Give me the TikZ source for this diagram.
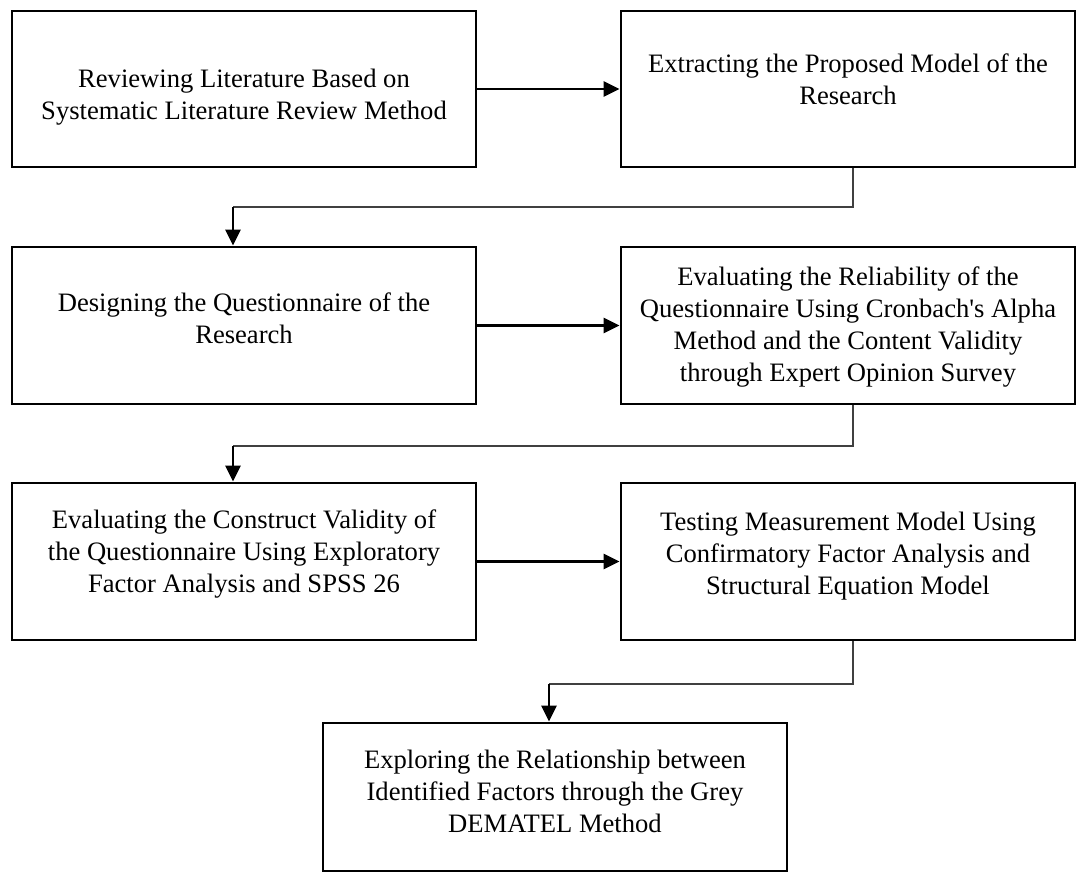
\documentclass[tikz,border=0pt]{standalone}
\usepackage{fontspec}
\setmainfont{Liberation Serif}
\usetikzlibrary{arrows.meta}
\tikzset{
  box/.style={draw, line width=2.9pt, rectangle, inner sep=0pt, minimum height=156pt},
  txt/.style={inner sep=0pt, align=center, font=\fontsize{26.6}{32}\selectfont},
  arr/.style={line width=2.8pt, -{Triangle[length=16pt,width=15pt]}},
  thinline/.style={line width=1.4pt, draw=black!75}
}
\begin{document}
\begin{tikzpicture}[x=1pt,y=-1pt]
\useasboundingbox (0,0) rectangle (1077,874);
\node[box, minimum width=464pt] (b1) at (244,89) {};
\node[box, minimum width=454pt] (b2) at (848,89) {};
\node[box, minimum width=464pt, minimum height=157pt] (b3) at (244,325.5) {};
\node[box, minimum width=454pt, minimum height=157pt] (b4) at (848,325.5) {};
\node[box, minimum width=464pt, minimum height=157pt] (b5) at (244,561.5) {};
\node[box, minimum width=454pt, minimum height=157pt] (b6) at (848,561.5) {};
\node[box, minimum width=464pt, minimum height=148pt] (b7) at (555,797) {};

\node[txt] (t1) at ([yshift=-8pt]b1.center) {Reviewing Literature Based on\\Systematic Literature Review Method};
\node[txt] (t2) at ([yshift=10pt]b2.center) {Extracting the Proposed Model of the\\Research};
\node[txt] (t3) at ([yshift=7pt]b3.center) {Designing the Questionnaire of the\\Research};
\node[txt] (t4) at ([yshift=-2pt]b4.center) {Evaluating the Reliability of the\\Questionnaire Using Cronbach\textquotesingle s Alpha\\Method and the Content Validity\\through Expert Opinion Survey};
\node[txt] (t5) at ([yshift=7pt]b5.center) {Evaluating the Construct Validity of\\the Questionnaire Using Exploratory\\Factor Analysis and SPSS 26};
\node[txt] (t6) at ([yshift=5pt]b6.center) {Testing Measurement Model Using\\Confirmatory Factor Analysis and\\Structural Equation Model};
\node[txt] (t7) at ([yshift=6pt]b7.center) {Exploring the Relationship between\\Identified Factors through the Grey\\DEMATEL Method};

\draw[arr] (b1.east) -- (b2.west);
\draw[arr] (b3.east) -- (b4.west);
\draw[arr] (b5.east) -- (b6.west);

\coordinate (c1) at (233,207);
\coordinate (c2) at (233,446);
\coordinate (c3) at (549,684);
\draw[thinline] ([xshift=5pt]b2.south) |- (c1);
\draw[arr] (c1) -- (c1 |- b3.north);
\draw[thinline] ([xshift=5pt]b4.south) |- (c2);
\draw[arr] (c2) -- (c2 |- b5.north);
\draw[thinline] ([xshift=5pt]b6.south) |- (c3);
\draw[arr] (c3) -- (c3 |- b7.north);
\end{tikzpicture}
\end{document}
